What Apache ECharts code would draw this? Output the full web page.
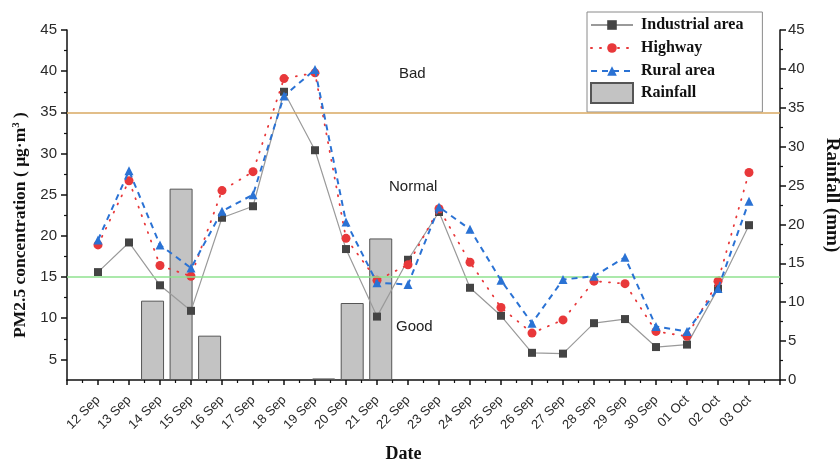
<!DOCTYPE html>
<html>
<head>
<meta charset="utf-8">
<script src="https://cdn.jsdelivr.net/npm/echarts@6/dist/echarts.min.js"></script>
<style>html,body{margin:0;padding:0;background:#fff}#c{width:840px;height:461px}</style>
</head>
<body>
<div id="c"></div>
<script>
const dates = ['12 Sep','13 Sep','14 Sep','15 Sep','16 Sep','17 Sep','18 Sep','19 Sep','20 Sep','21 Sep','22 Sep','23 Sep','24 Sep','25 Sep','26 Sep','27 Sep','28 Sep','29 Sep','30 Sep','01 Oct','02 Oct','03 Oct'];
const industrial = [15.6,19.2,14.0,10.9,22.2,23.6,37.5,30.4,18.4,10.2,17.1,22.9,13.7,10.3,5.8,5.7,9.4,9.9,6.5,6.8,13.6,21.3];
const highway    = [18.9,26.7,16.4,15.1,25.5,27.8,39.1,39.8,19.7,14.6,16.5,23.3,16.8,11.3,8.2,9.8,14.5,14.2,8.4,7.8,14.5,27.7];
const rural      = [19.5,27.9,18.9,16.1,23.0,25.0,37.0,40.2,21.7,14.3,14.1,23.5,20.8,14.6,9.4,14.7,15.1,17.4,9.0,8.4,13.6,24.2];
const rainfall   = [0,0,10.2,24.6,5.7,0,0,0,0.2,9.9,18.2,0,0,0,0,0,0,0,0,0,0,0];
const leftLabels = [5,10,15,20,25,30,35,40,45];
const leftMinor = [7.5,12.5,17.5,22.5,27.5,32.5,37.5,42.5];
const thresholds = [35,15];

const chart = echarts.init(document.getElementById('c'));
const tickFont = {fontFamily:'Liberation Sans', fontSize:15, color:'#2a2a2a'};
const nameFont = {fontFamily:'Liberation Serif', fontWeight:'bold', fontSize:18, color:'#111'};
const pairs = a => a.map((v,i)=>[i,v]);

chart.setOption({
  animation:false,
  backgroundColor:'#fff',
  grid:{left:67, right:60, top:30, bottom:81, containLabel:false, outerBoundsMode:'none'},
  legend:[{
    data:['Industrial area','Highway','Rural area'],
    orient:'vertical', left:587, top:12,
    itemWidth:42, itemHeight:12, itemGap:7,
    padding:[5,19,33,3],
    borderColor:'#8a8a8a', borderWidth:1,
    textStyle:{fontFamily:'Liberation Serif', fontWeight:'bold', fontSize:16, color:'#111', padding:[0,0,0,3]}
  },{
    data:[{name:'Rainfall', icon:'rect'}],
    orient:'vertical', left:587, top:82,
    itemWidth:42, itemHeight:20,
    padding:[0,0,0,3],
    textStyle:{fontFamily:'Liberation Serif', fontWeight:'bold', fontSize:16, color:'#111', padding:[0,0,0,3]}
  }],
  xAxis:[{
    type:'value', min:-1, max:22, interval:1,
    name:'Date', nameLocation:'middle', nameGap:65,
    nameTextStyle:Object.assign({}, nameFont, {padding:[0,40,0,0]}),
    axisLine:{show:true, onZero:false, lineStyle:{color:'#111', width:1.5}},
    axisTick:{show:true, inside:false, length:5, lineStyle:{color:'#111', width:1.5}},
    minorTick:{show:true, splitNumber:2, length:3, lineStyle:{color:'#111', width:1.2}},
    axisLabel:{rotate:45, margin:18, fontFamily:'Liberation Sans', fontSize:13, color:'#2a2a2a',
      formatter:v=> (v>=0 && v<dates.length) ? dates[v] : ''},
    splitLine:{show:false}
  },{
    type:'value', min:-1, max:24, show:false, position:'bottom',
    axisLine:{onZero:false}
  }],
  yAxis:[{
    type:'value', min:2.5, max:45, position:'left',
    name:'PM2.5 concentration ( μg·m{sup|3} )', nameLocation:'middle', nameGap:35,
    nameTextStyle:Object.assign({}, nameFont, {fontSize:17.5, padding:[0,0,0,-40],
      rich:{sup:{fontFamily:'Liberation Serif', fontWeight:'bold', fontSize:11, color:'#111', verticalAlign:'top', padding:[0,0,8,0]}}}),
    axisLine:{show:true, onZero:false, lineStyle:{color:'#111', width:1.5}},
    axisTick:{show:true, inside:false, length:6, customValues:leftLabels, lineStyle:{color:'#111', width:1.5}},
    axisLabel:Object.assign({margin:10, customValues:leftLabels}, tickFont),
    splitLine:{show:false}
  },{
    type:'value', min:0, max:45, interval:5, position:'right',
    name:'Rainfall (mm)', nameLocation:'middle', nameGap:42, nameRotate:-90,
    nameTextStyle:Object.assign({}, nameFont, {fontSize:19, padding:[0,20,0,0]}),
    axisLine:{show:true, onZero:false, lineStyle:{color:'#111', width:1.5}},
    axisTick:{show:true, inside:false, length:6, lineStyle:{color:'#111', width:1.5}},
    minorTick:{show:true, splitNumber:2, length:3, lineStyle:{color:'#111', width:1.2}},
    axisLabel:Object.assign({margin:8}, tickFont),
    splitLine:{show:false}
  },{
    type:'value', min:2.5, max:45, position:'left', offset:0,
    axisLine:{show:false, onZero:false},
    axisTick:{show:true, inside:false, length:3, customValues:leftMinor, lineStyle:{color:'#111', width:1.2}},
    axisLabel:{show:false},
    splitLine:{show:false}
  }],
  graphic:[
    {type:'text', left:399, top:66, style:{text:'Bad', font:'15px "Liberation Sans"', fill:'#222'}},
    {type:'text', left:389, top:179, style:{text:'Normal', font:'15px "Liberation Sans"', fill:'#222'}},
    {type:'text', left:396, top:319, style:{text:'Good', font:'15px "Liberation Sans"', fill:'#222'}}
  ],
  series:[{
    name:'Rainfall', type:'bar', xAxisIndex:1, yAxisIndex:1, barWidth:23,
    data:pairs(rainfall).filter(p=>p[1]>0),
    itemStyle:{color:'#c3c3c3', borderColor:'#555', borderWidth:1},
    z:1
  },{
    name:'Industrial area', type:'line', xAxisIndex:0, yAxisIndex:0,
    data:pairs(industrial), symbol:'rect', symbolSize:8,
    itemStyle:{color:'#444'}, lineStyle:{color:'#9a9a9a', width:1.2},
    markLine:{silent:true, symbol:'none', label:{show:false},
      data:[{yAxis:thresholds[0], lineStyle:{color:'#d8a862', width:1.5, type:'solid'}},
            {yAxis:thresholds[1], lineStyle:{color:'#8fe28f', width:1.5, type:'solid'}}]},
    z:3
  },{
    name:'Highway', type:'line', xAxisIndex:0, yAxisIndex:0,
    data:pairs(highway), symbol:'circle', symbolSize:9,
    itemStyle:{color:'#e8383a'}, lineStyle:{color:'#e8383a', width:1.8, type:[1,8], cap:'round'},
    z:4
  },{
    name:'Rural area', type:'line', xAxisIndex:0, yAxisIndex:0,
    data:pairs(rural), symbol:'triangle', symbolSize:9,
    itemStyle:{color:'#2a72d4'}, lineStyle:{color:'#2a72d4', width:2, type:[6,5]},
    z:5
  }]
});
</script>
</body>
</html>
